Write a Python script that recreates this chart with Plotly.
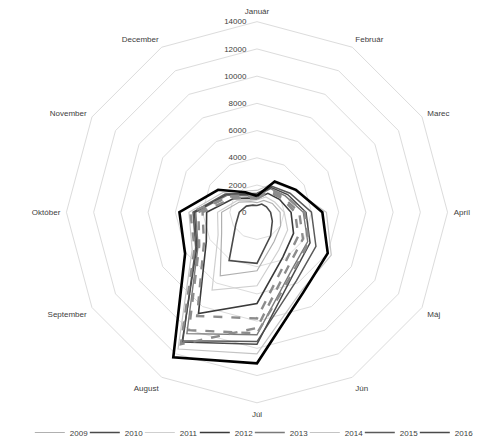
import plotly.graph_objects as go

months = ["Január", "Február", "Marec", "Apríl", "Máj", "Jún",
          "Júl", "August", "September", "Október", "November", "December"]

# series shown in the (visible) legend
v2009 = [700, 1000, 1300, 1700, 2000, 2500, 4300, 5400, 3000, 2600, 1500, 900]
v2010 = [500, 700, 800, 1000, 1300, 2000, 3750, 4100, 1800, 1300, 900, 600]
v2011 = [900, 1300, 1500, 2000, 2600, 3200, 5400, 6600, 3300, 2900, 1700, 1000]
v2012 = [1000, 1600, 1900, 2500, 3100, 3800, 6700, 8600, 4300, 3700, 2000, 1200]
v2013 = [1200, 2000, 2400, 3400, 4300, 5000, 9000, 10300, 5000, 4500, 2500, 1400]
v2014 = [1600, 2500, 3200, 5100, 6300, 6600, 10400, 11600, 5500, 5000, 2900, 1800]
v2015 = [1400, 2200, 2800, 4000, 5000, 5800, 9500, 10900, 5200, 4700, 2700, 1600]
v2016 = [1300, 2100, 2600, 3600, 4500, 5300, 9700, 11000, 5100, 4600, 2600, 1500]
# series whose legend row is cut off in the reference
v2017 = [1000, 1700, 2100, 2800, 3500, 4200, 7800, 8800, 4500, 4000, 2100, 1200]
v2018 = [1100, 1800, 2200, 3100, 3900, 4600, 8500, 11200, 5300, 4900, 2300, 1300]
v2019 = [1200, 1900, 2400, 3500, 4400, 5200, 8900, 10000, 4900, 4300, 2400, 1400]
v2020 = [1200, 2600, 3300, 4800, 6000, 6800, 11100, 12300, 6100, 5700, 3300, 1700]

years = ["2009", "2010", "2011", "2012", "2013", "2014", "2015", "2016"]
values = [v2009, v2010, v2011, v2012, v2013, v2014, v2015, v2016]
colors = ["#b0b0b0", "#4a4a4a", "#cfcfcf", "#3a3a3a", "#7a7a7a", "#c4c4c4", "#5a5a5a", "#4a4a4a"]
widths = [1.2, 1.6, 1.2, 1.6, 1.4, 1.2, 1.5, 1.5]

dash_names = ["2017", "2018", "2019"]
dash_values = [v2017, v2018, v2019]

radial_ticks = list(range(0, 14001, 2000))
pad = "\u00a0" * 4

fig = go.Figure()
for i, (name, vals, c, w) in enumerate(zip(years, values, colors, widths)):
    fig.add_trace(go.Scatterpolar(
        r=vals + vals[:1], theta=months + months[:1], mode="lines", name=name,
        line=dict(color=c, width=w),
        legendwidth=24 if i == len(years) - 1 else None))
for name, vals in zip(dash_names, dash_values):
    fig.add_trace(go.Scatterpolar(
        r=vals + vals[:1], theta=months + months[:1], mode="lines", name=name,
        line=dict(color="#8c8c8c", width=2.4, dash="dash"), showlegend=False))
fig.add_trace(go.Scatterpolar(
    r=v2020 + v2020[:1], theta=months + months[:1], mode="lines", name="2020",
    line=dict(color="#000000", width=2.6), showlegend=False))

fig.update_layout(
    width=485, height=439,
    margin=dict(l=0, r=0, t=0, b=0),
    paper_bgcolor="white", plot_bgcolor="white",
    font=dict(family="Liberation Sans", size=8, color="#404040"),
    polar=dict(
        domain=dict(x=[0.1113, 0.9155], y=[0.0797, 0.9681]),
        bgcolor="white",
        gridshape="linear",
        radialaxis=dict(range=[0, 14000], tickvals=radial_ticks,
                        ticktext=[str(t) + pad for t in radial_ticks],
                        angle=90, tickangle=90, side="counterclockwise", showline=False,
                        gridcolor="#dcdcdc", gridwidth=1, ticks="",
                        tickfont=dict(size=8, color="#404040")),
        angularaxis=dict(direction="clockwise", rotation=90, showgrid=False,
                         showline=True, linecolor="#dcdcdc", linewidth=1,
                         ticks="outside", ticklen=4, tickcolor="rgba(0,0,0,0)",
                         tickfont=dict(size=8, color="#404040")),
    ),
    legend=dict(orientation="h", x=0.513, xanchor="center", y=0.01, yanchor="middle",
                bgcolor="rgba(0,0,0,0)",
                font=dict(size=8, color="#404040"), entrywidth=10, entrywidthmode="pixels",
                itemwidth=30, traceorder="normal"),
)

fig.write_html("out.html")
